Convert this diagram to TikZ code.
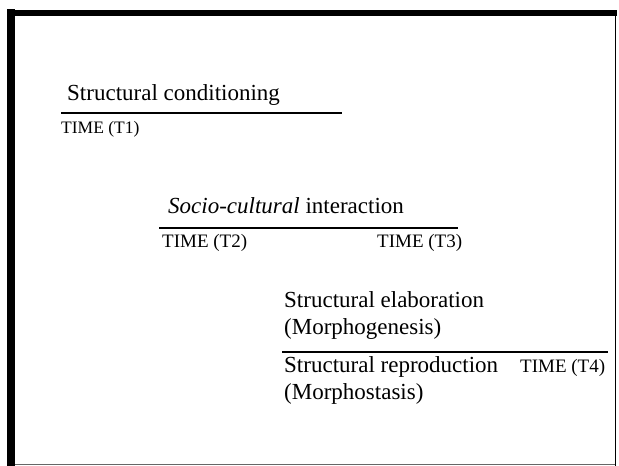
\documentclass[tikz,border=0pt]{standalone}
\usepackage{fontspec}
\setmainfont{Liberation Serif}
\begin{document}
\begin{tikzpicture}[x=1pt,y=-1pt,
  label/.style={anchor=base west,inner sep=0pt,font=\fontsize{23}{27}\selectfont},
  timelabel/.style={anchor=base west,inner sep=0pt,font=\fontsize{19}{22}\selectfont},
  rule/.style={line width=2.2pt}]
\useasboundingbox (0,0) rectangle (619,466);
% frame
\draw[line width=8pt] (11,466) -- (11,9);
\draw[line width=6pt] (7,13) -- (617,13);
\draw[line width=1.5pt] (615.5,13) -- (615.5,466);
\draw[line width=1.5pt,black!60] (15,464.5) -- (615,464.5);
% stage 1: structural conditioning
\node[label] (sc) at (67,100) {Structural conditioning};
\coordinate (l1a) at (61,113);
\coordinate (l1b) at (342,113);
\draw[rule] (l1a) -- (l1b);
\node[timelabel,font=\fontsize{17.5}{21}\selectfont] (t1) at (61,133) {TIME (T1)};
% stage 2: socio-cultural interaction
\node[label] (si) at (168,213) {\textit{Socio-cultural} interaction};
\coordinate (l2a) at (159,228);
\coordinate (l2b) at (458,228);
\draw[rule] (l2a) -- (l2b);
\node[timelabel] (t2) at (162,247) {TIME (T2)};
\node[timelabel] (t3) at (377,247) {TIME (T3)};
% stage 3: elaboration or reproduction
\node[label] (se) at (284,307) {Structural elaboration};
\node[label] (mg) at (284,334) {(Morphogenesis)};
\coordinate (l3a) at (282,352);
\coordinate (l3b) at (608,352);
\draw[rule] (l3a) -- (l3b);
\node[label] (sr) at (284,372) {Structural reproduction};
\node[timelabel] (t4) at (520,372) {TIME (T4)};
\node[label] (ms) at (284,399) {(Morphostasis)};
\end{tikzpicture}
\end{document}
